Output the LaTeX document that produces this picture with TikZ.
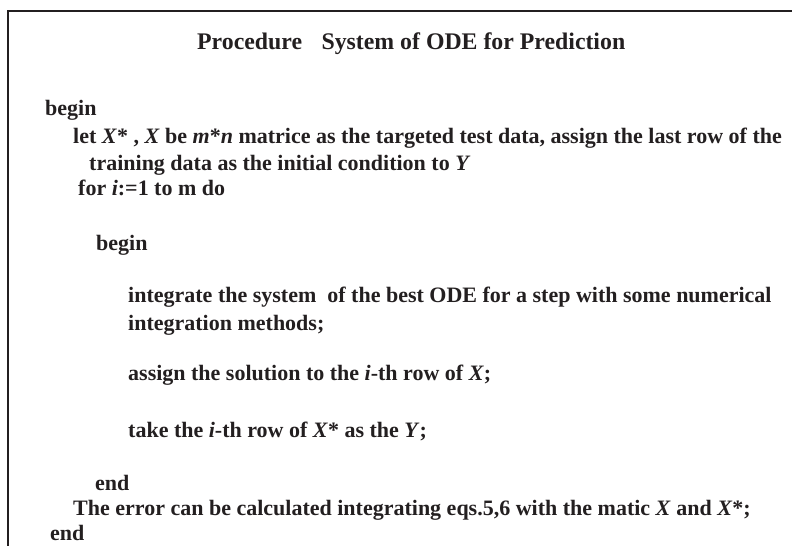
\documentclass[tikz,border=0pt]{standalone}
\usepackage{fontspec}
\setmainfont{Liberation Serif}
\definecolor{ink}{HTML}{231F20}
\begin{document}
\begin{tikzpicture}[x=1pt,y=-1pt,
  codeline/.style={anchor=base west,inner sep=0pt,text=ink,
    font=\fontsize{22}{26}\selectfont\bfseries},
  titleline/.style={codeline,font=\fontsize{23.8}{28}\selectfont\bfseries},
  frameline/.style={draw=ink,line width=2pt}]
\useasboundingbox (0,0) rectangle (792,546);
% frame: top rule and left rule only
\coordinate (tl) at (8,11);
\coordinate (tr) at (792,11);
\coordinate (bl) at (8,546);
\draw[frameline] (tr) -- (tl) -- (bl);
% title
\node[titleline] (title) at (197,49) {Procedure\hspace{0.82em}System of ODE for Prediction};
% procedure body
\node[codeline] (b1) at (45,115) {begin};
\node[codeline] (s1) at (73,143) {let \textit{X}* , \textit{X} be \textit{m}*\textit{n} matrice as the targeted test data, assign the last row of the};
\node[codeline] (s1b) at (89,170) {training data as the initial condition to \textit{Y}};
\node[codeline] (f1) at (78,195) {for \textit{i}:=1 to m do};
\node[codeline] (b2) at (96,250) {begin};
\node[codeline] (s2) at (128,302) {integrate the system\ \ of the best ODE for a step with some numerical};
\node[codeline] (s2b) at (128,330) {integration methods;};
\node[codeline] (s3) at (128,380) {assign the solution to the \textit{i}-th row of \textit{X};};
\node[codeline] (s4) at (128,437) {take the \textit{i}-th row of \textit{X}* as the \textit{Y};};
\node[codeline] (e2) at (95,490) {end};
\node[codeline] (s5) at (73,515) {The error can be calculated integrating eqs.5,6 with the matic \textit{X} and \textit{X}*;};
\node[codeline] (e1) at (50,540) {end};
\end{tikzpicture}
\end{document}
